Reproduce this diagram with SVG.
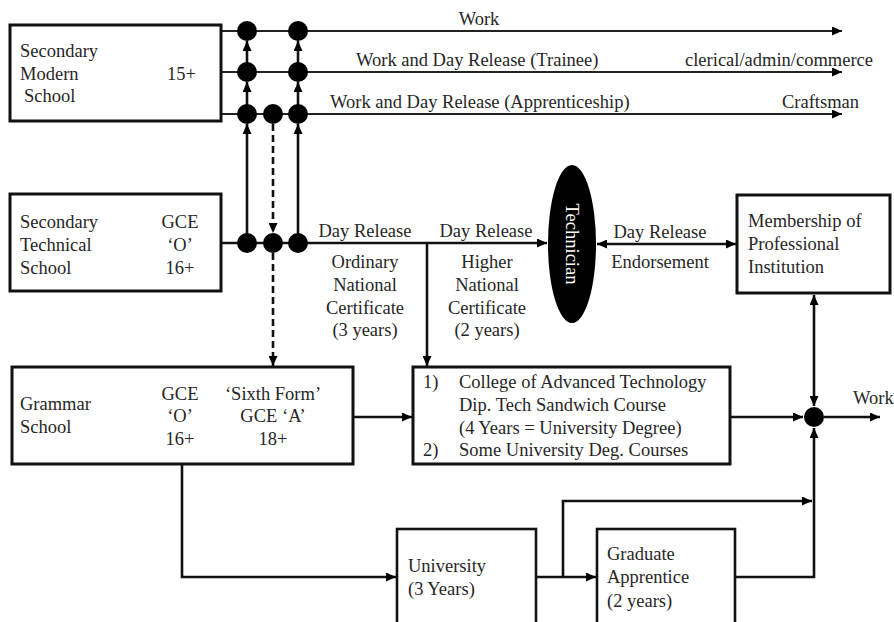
<svg xmlns="http://www.w3.org/2000/svg" width="894" height="622" viewBox="0 0 894 622">
  <style>
    text { font-family: "Liberation Serif", "Times New Roman", serif; font-size: 18.5px; fill: #262626; }
    .mid { text-anchor: middle; }
    .box { fill: #fff; stroke: #111; stroke-width: 3; }
    .box2 { fill: #fff; stroke: #111; stroke-width: 2.6; }
    .ln { fill: none; stroke: #111; stroke-width: 2.6; }
    .thin { fill: none; stroke: #222; stroke-width: 2; }
    .dash { fill: none; stroke: #111; stroke-width: 2.6; stroke-dasharray: 7 4; }
    .dot { fill: #000; }
    .arr { marker-end: url(#ah); }
    .both { marker-start: url(#ah); marker-end: url(#ah); }
  </style>
  <defs>
    <marker id="ah" markerUnits="userSpaceOnUse" markerWidth="11" markerHeight="9" refX="10" refY="4.5" orient="auto-start-reverse">
      <path d="M0,0 L10,4.5 L0,9 z" fill="#000"/>
    </marker>
  </defs>
  <rect width="894" height="622" fill="#fff"/>

  <!-- connectors -->
  <g id="connectors">
    <!-- routes out of the secondary modern school -->
    <line class="thin arr" x1="221" y1="31" x2="842" y2="31"/>
    <line class="thin arr" x1="221" y1="72" x2="842" y2="72"/>
    <line class="thin arr" x1="221" y1="114" x2="842" y2="114"/>
    <text x="479" y="25" class="mid">Work</text>
    <text x="356" y="66">Work and Day Release (Trainee)</text>
    <text x="873" y="66" text-anchor="end">clerical/admin/commerce</text>
    <text x="330" y="108">Work and Day Release (Apprenticeship)</text>
    <text x="859" y="108" text-anchor="end">Craftsman</text>

    <!-- upward transfers -->
    <line class="ln arr" x1="247" y1="243" x2="247" y2="124"/>
    <line class="ln arr" x1="247" y1="114" x2="247" y2="82"/>
    <line class="ln arr" x1="247" y1="72" x2="247" y2="41"/>
    <line class="ln arr" x1="298" y1="243" x2="298" y2="124"/>
    <line class="ln arr" x1="298" y1="114" x2="298" y2="82"/>
    <line class="ln arr" x1="298" y1="72" x2="298" y2="41"/>
    <!-- dashed transfer down to grammar school -->
    <line class="dash arr" x1="273" y1="124" x2="273" y2="233"/>
    <line class="dash arr" x1="273" y1="253" x2="273" y2="366"/>

    <!-- day release route -->
    <line class="ln arr" x1="221" y1="243" x2="547" y2="243"/>
    <line class="ln arr" x1="427" y1="243" x2="427" y2="366"/>
    <text x="365" y="237" class="mid">Day Release</text>
    <text x="365" y="268" class="mid">Ordinary</text>
    <text x="365" y="291" class="mid">National</text>
    <text x="365" y="314" class="mid">Certificate</text>
    <text x="365" y="336" class="mid">(3 years)</text>
    <text x="486" y="237" class="mid">Day Release</text>
    <text x="487" y="268" class="mid">Higher</text>
    <text x="487" y="291" class="mid">National</text>
    <text x="487" y="314" class="mid">Certificate</text>
    <text x="487" y="336" class="mid">(2 years)</text>

    <line class="ln both" x1="597" y1="244" x2="736" y2="244"/>
    <text x="660" y="238" class="mid">Day Release</text>
    <text x="660" y="268" class="mid">Endorsement</text>

    <!-- into the college and on to work -->
    <line class="ln arr" x1="353" y1="417" x2="412" y2="417"/>
    <line class="ln arr" x1="730" y1="417" x2="803" y2="417"/>
    <line class="ln both" x1="814" y1="295" x2="814" y2="406"/>
    <line class="ln arr" x1="824" y1="417" x2="880" y2="417"/>
    <text x="853" y="404">Work</text>

    <!-- university routes -->
    <polyline class="ln arr" points="182,464 182,577 396,577"/>
    <line class="ln arr" x1="536" y1="577" x2="596" y2="577"/>
    <polyline class="ln arr" points="563,577 563,501 812,501"/>
    <polyline class="ln arr" points="735,577 814,577 814,428"/>

    <!-- junctions -->
    <circle class="dot" cx="247" cy="31" r="10"/>
    <circle class="dot" cx="298" cy="31" r="10"/>
    <circle class="dot" cx="247" cy="72" r="10"/>
    <circle class="dot" cx="298" cy="72" r="10"/>
    <circle class="dot" cx="247" cy="114" r="10"/>
    <circle class="dot" cx="273" cy="114" r="10"/>
    <circle class="dot" cx="298" cy="114" r="10"/>
    <circle class="dot" cx="247" cy="243" r="10"/>
    <circle class="dot" cx="273" cy="243" r="10"/>
    <circle class="dot" cx="298" cy="243" r="10"/>
    <circle class="dot" cx="814" cy="417" r="10"/>
  </g>

  <g id="secondary-modern">
    <rect class="box" x="10" y="25" width="211" height="96"/>
    <text x="20" y="57">Secondary</text>
    <text x="20" y="80">Modern</text>
    <text x="24" y="102">School</text>
    <text x="167" y="80">15+</text>
  </g>

  <g id="secondary-technical">
    <rect class="box" x="10" y="194" width="211" height="97"/>
    <text x="20" y="228">Secondary</text>
    <text x="20" y="251">Technical</text>
    <text x="20" y="274">School</text>
    <text x="180" y="228" class="mid">GCE</text>
    <text x="180" y="251" class="mid">‘O’</text>
    <text x="180" y="274" class="mid">16+</text>
  </g>

  <g id="technician">
    <ellipse cx="572" cy="244" rx="24" ry="79" fill="#000"/>
    <text transform="translate(572,244) rotate(90)" y="6" class="mid" style="fill:#fff">Technician</text>
  </g>

  <g id="professional">
    <rect class="box" x="737" y="195" width="153" height="98"/>
    <text x="748" y="227">Membership of</text>
    <text x="748" y="250">Professional</text>
    <text x="748" y="273">Institution</text>
  </g>

  <g id="grammar">
    <rect class="box" x="12" y="367" width="341" height="97"/>
    <text x="20" y="410">Grammar</text>
    <text x="20" y="433">School</text>
    <text x="180" y="400" class="mid">GCE</text>
    <text x="180" y="422" class="mid">‘O’</text>
    <text x="180" y="445" class="mid">16+</text>
    <text x="273" y="400" class="mid">‘Sixth Form’</text>
    <text x="273" y="422" class="mid">GCE ‘A’</text>
    <text x="273" y="445" class="mid">18+</text>
  </g>

  <g id="college">
    <rect class="box" x="413" y="367" width="317" height="97"/>
    <text x="423" y="388">1)</text>
    <text x="459" y="388">College of Advanced Technology</text>
    <text x="459" y="411">Dip. Tech Sandwich  Course</text>
    <text x="459" y="434">(4 Years = University  Degree)</text>
    <text x="423" y="456">2)</text>
    <text x="459" y="456">Some University Deg. Courses</text>
  </g>

  <g id="university">
    <rect class="box2" x="397" y="529" width="139" height="120"/>
    <text x="408" y="572">University</text>
    <text x="408" y="595">(3 Years)</text>
  </g>

  <g id="graduate-apprentice">
    <rect class="box2" x="597" y="529" width="138" height="120"/>
    <text x="607" y="560">Graduate</text>
    <text x="607" y="583">Apprentice</text>
    <text x="607" y="607">(2 years)</text>
  </g>
</svg>
